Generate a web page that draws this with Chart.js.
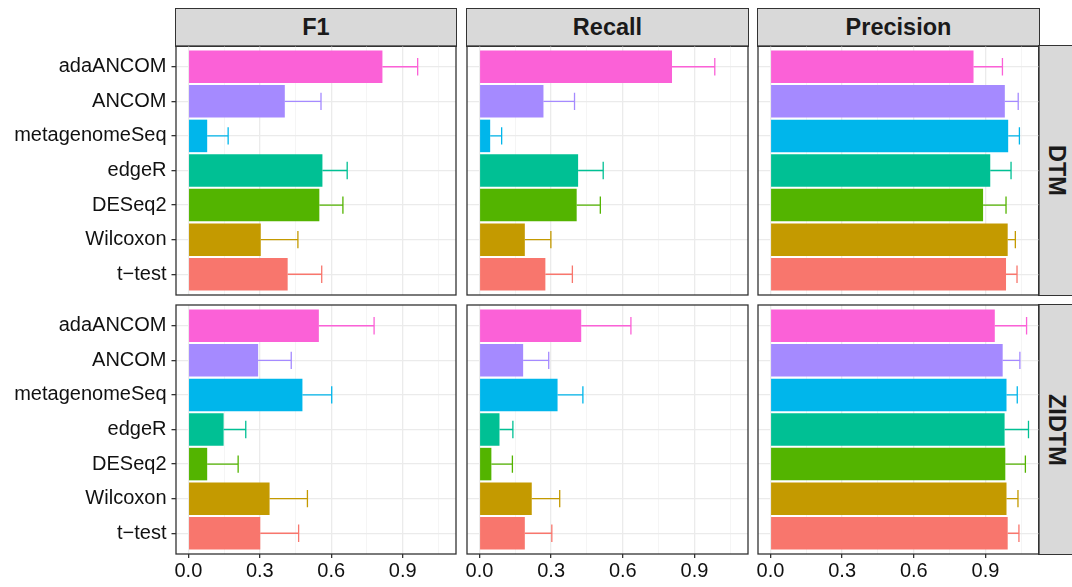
<!DOCTYPE html>
<html><head><meta charset="utf-8">
<script src="https://cdn.jsdelivr.net/npm/chart.js@4.4.1/dist/chart.umd.min.js"></script>
<style>
html,body{margin:0;padding:0;background:#fff;width:1072px;height:587px;overflow:hidden;}
#wrap{position:relative;width:1072px;height:587px;overflow:hidden;}
canvas{position:absolute;}
.strip{position:absolute;box-sizing:border-box;background:#D9D9D9;border:1.3px solid #333;font-family:"Liberation Sans",Arial,sans-serif;font-weight:bold;font-size:23.5px;color:#1A1A1A;display:flex;align-items:center;justify-content:center;}
.strip.v{justify-content:flex-start;padding-left:4px;}
.strip.v span{writing-mode:vertical-rl;}
</style></head><body><div id="wrap"></div>
<script>
// ---- data ----
const methods = ['adaANCOM', 'ANCOM', 'metagenomeSeq', 'edgeR', 'DESeq2', 'Wilcoxon', 't\u2212test'];
const methodColors = ['#FB61D7', '#A58AFF', '#00B6EB', '#00C094', '#53B400', '#C49A00', '#F8766D'];
const metricNames = ['F1', 'Recall', 'Precision'];
const modelNames = ['DTM', 'ZIDTM'];

const f1DTM        = [0.815, 0.405, 0.079, 0.563, 0.550, 0.304, 0.417];
const f1DTMsd      = [0.148, 0.152, 0.088, 0.104, 0.099, 0.156, 0.143];
const recallDTM    = [0.806, 0.268, 0.045, 0.413, 0.407, 0.190, 0.276];
const recallDTMsd  = [0.179, 0.130, 0.048, 0.105, 0.099, 0.109, 0.113];
const precDTM      = [0.850, 0.981, 0.995, 0.920, 0.890, 0.993, 0.986];
const precDTMsd    = [0.121, 0.056, 0.047, 0.087, 0.096, 0.032, 0.046];

const f1ZIDTM       = [0.548, 0.293, 0.479, 0.148, 0.079, 0.341, 0.302];
const f1ZIDTMsd     = [0.232, 0.139, 0.123, 0.093, 0.130, 0.159, 0.161];
const recallZIDTM   = [0.426, 0.183, 0.327, 0.084, 0.050, 0.219, 0.190];
const recallZIDTMsd = [0.208, 0.107, 0.106, 0.056, 0.088, 0.117, 0.113];
const precZIDTM     = [0.939, 0.972, 0.988, 0.980, 0.983, 0.988, 0.993];
const precZIDTMsd   = [0.133, 0.072, 0.045, 0.100, 0.084, 0.048, 0.047];

const xMajorTicks = [0, 0.3, 0.6, 0.9];
const xMinorTicks = [0.15, 0.45, 0.75, 1.05];

// ---- layout ----
const FONT = '"Liberation Sans", Arial, sans-serif';
const FS = 20;
const colL = [176, 467, 758], colR = [456, 748, 1039];
const rowT = [46, 305], rowB = [295, 554];
const stripTop = 9, BW = 1.3;
const panels = [
  [[f1DTM, f1DTMsd], [recallDTM, recallDTMsd], [precDTM, precDTMsd]],
  [[f1ZIDTM, f1ZIDTMsd], [recallZIDTM, recallZIDTMsd], [precZIDTM, precZIDTMsd]]
];
const wrap = document.getElementById('wrap');

const isMajor = v => xMajorTicks.some(t => Math.abs(t - v) < 1e-6);

const errorBarPlugin = {
  id: 'errbars',
  afterDatasetsDraw(chart) {
    const ctx = chart.ctx, xs = chart.scales.x, ys = chart.scales.y;
    const half = Math.abs(ys.getPixelForValue(1.25) - ys.getPixelForValue(1));
    chart.data.datasets.forEach((ds, di) => {
      const meta = chart.getDatasetMeta(di);
      meta.data.forEach((el, i) => {
        const m = ds.data[i].x, hi = m + ds.sd[i];
        const x0 = xs.getPixelForValue(m), x1 = xs.getPixelForValue(hi), y = el.y;
        ctx.save();
        ctx.strokeStyle = methodColors[i];
        ctx.lineWidth = 1.3;
        ctx.beginPath();
        ctx.moveTo(x0, y); ctx.lineTo(x1, y);
        ctx.moveTo(x1, y - half); ctx.lineTo(x1, y + half);
        ctx.stroke();
        ctx.restore();
      });
    });
  }
};
const borderPlugin = {
  id: 'panelBorder',
  afterDraw(chart) {
    const a = chart.chartArea, ctx = chart.ctx;
    ctx.save();
    ctx.strokeStyle = '#333';
    ctx.lineWidth = BW;
    ctx.strokeRect(a.left, a.top, a.right - a.left, a.bottom - a.top);
    ctx.restore();
  }
};

// strips
metricNames.forEach((name, c) => {
  const d = document.createElement('div');
  d.className = 'strip';
  d.style.left = (colL[c] - BW / 2) + 'px';
  d.style.top = (stripTop - BW / 2) + 'px';
  d.style.width = (colR[c] - colL[c] + BW) + 'px';
  d.style.height = (rowT[0] - stripTop + BW) + 'px';
  d.textContent = name;
  wrap.appendChild(d);
});
modelNames.forEach((name, r) => {
  const d = document.createElement('div');
  d.className = 'strip v';
  d.style.left = (colR[2] - BW / 2) + 'px';
  d.style.top = (rowT[r] - BW / 2) + 'px';
  d.style.width = '50px';
  d.style.height = (rowB[r] - rowT[r] + BW) + 'px';
  const s = document.createElement('span');
  s.textContent = name;
  d.appendChild(s);
  wrap.appendChild(d);
});

// panels
const M = 3;
for (let r = 0; r < 2; r++) {
  for (let c = 0; c < 3; c++) {
    const [means, sds] = panels[r][c];
    const padL = c === 0 ? colL[0] : 10;
    const xH = r === 1 ? 587 - rowB[1] : 0;
    const cv = document.createElement('canvas');
    const W = padL + (colR[c] - colL[c]) + M;
    const H = M + (rowB[r] - rowT[r]) + (r === 1 ? xH : M);
    cv.width = W; cv.height = H;
    cv.style.width = W + 'px'; cv.style.height = H + 'px';
    cv.style.left = (colL[c] - padL) + 'px';
    cv.style.top = (rowT[r] - M) + 'px';
    wrap.appendChild(cv);
    new Chart(cv, {
      type: 'bar',
      data: {
        datasets: [{
          data: methods.map((m, i) => ({ x: means[i], y: i + 1 })),
          sd: sds,
          backgroundColor: methodColors,
          borderWidth: 0,
          categoryPercentage: 1,
          barPercentage: 0.94
        }]
      },
      options: {
        indexAxis: 'y',
        responsive: false,
        animation: false,
        events: [],
        devicePixelRatio: 1,
        layout: { autoPadding: false, padding: { left: 0, top: M, right: M, bottom: r === 1 ? 0 : M } },
        plugins: { legend: { display: false }, tooltip: { enabled: false }, title: { display: false } },
        scales: {
          x: {
            type: 'linear', min: -0.052, max: 1.124, offset: false,
            afterBuildTicks: s => { s.ticks = xMajorTicks.concat(xMinorTicks).sort((a, b) => a - b).map(v => ({ value: v })); },
            afterFit: s => { s.height = xH; s.paddingLeft = s.paddingRight = s.paddingTop = s.paddingBottom = 0; },
            border: { display: false },
            grid: {
              offset: false,
              color: ctx => (ctx.tick && isMajor(ctx.tick.value)) ? '#EBEBEB' : '#F3F3F3',
              lineWidth: ctx => (ctx.tick && isMajor(ctx.tick.value)) ? 1.3 : 0.8,
              tickColor: ctx => (ctx.tick && isMajor(ctx.tick.value)) ? '#333' : 'rgba(0,0,0,0)',
              drawTicks: r === 1, tickLength: 4, tickWidth: 1.3
            },
            ticks: {
              display: r === 1, autoSkip: false, maxRotation: 0, minRotation: 0, padding: 1,
              color: '#111', font: { family: FONT, size: FS },
              callback: v => isMajor(v) ? v.toFixed(1) : ''
            }
          },
          y: {
            type: 'linear', reverse: true, min: 0.4, max: 7.6, offset: false,
            afterBuildTicks: s => { s.ticks = methods.map((_, i) => ({ value: i + 1 })); },
            afterFit: s => { s.width = padL; s.paddingLeft = s.paddingRight = s.paddingTop = s.paddingBottom = 0; },
            border: { display: false },
            grid: { offset: false, color: '#EBEBEB', lineWidth: 1.3, drawTicks: c === 0, tickLength: 4.5, tickColor: '#333', tickWidth: 1.3 },
            ticks: {
              display: c === 0, autoSkip: false, padding: 5,
              color: '#111', font: { family: FONT, size: FS },
              callback: v => methods[Math.round(v) - 1]
            }
          }
        }
      },
      plugins: [errorBarPlugin, borderPlugin]
    });
  }
}
</script></body></html>
